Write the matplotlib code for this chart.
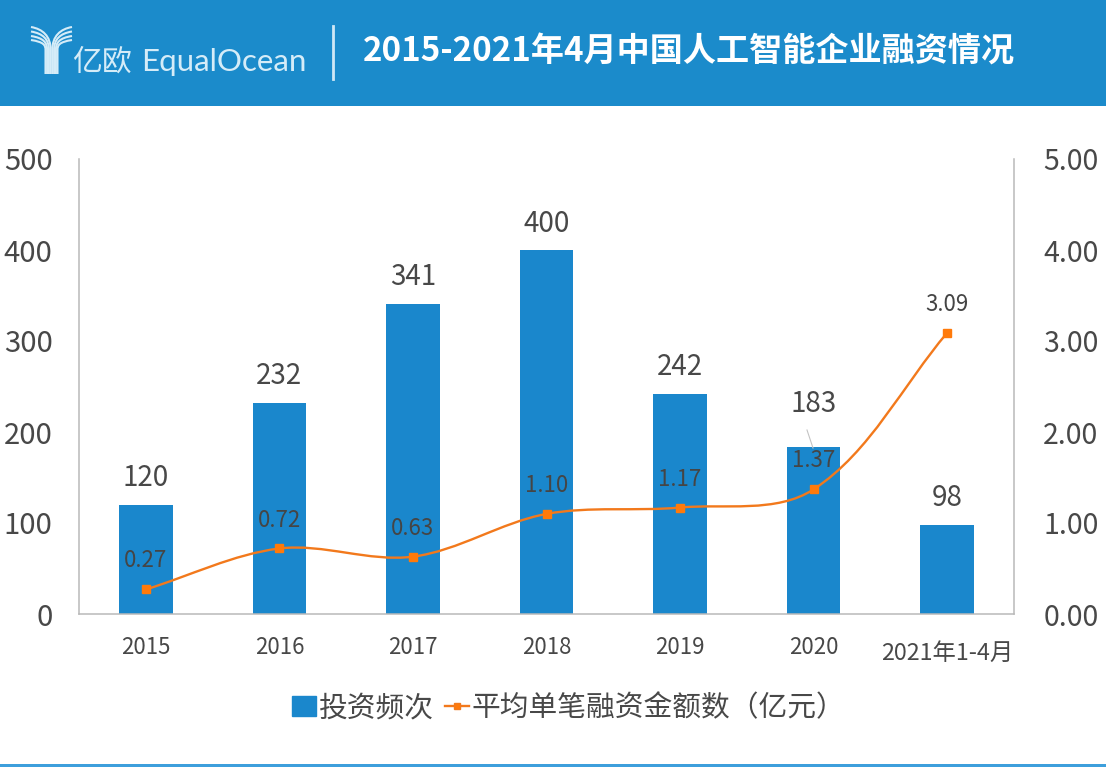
# 2015-2021 融资情况
import numpy as np
import matplotlib
matplotlib.use('Agg')
import matplotlib.pyplot as plt
from matplotlib.path import Path
from matplotlib.patches import PathPatch, Rectangle
from matplotlib.lines import Line2D

plt.rcParams['font.family'] = ['Noto Sans CJK SC', 'DejaVu Sans']

years = ['2015', '2016', '2017', '2018', '2019', '2020', '2021年1-4月']
freq = [120, 232, 341, 400, 242, 183, 98]
amount = [0.27, 0.72, 0.63, 1.10, 1.17, 1.37, 3.09]
amount_labels = ['0.27', '0.72', '0.63', '1.10', '1.17', '1.37', '3.09']
left_ticks = [0, 100, 200, 300, 400, 500]
right_ticks = [0, 1, 2, 3, 4, 5]
title = '2015-2021年4月中国人工智能企业融资情况'

BLUE = '#1a87cc'
HEAD = '#1b8bcb'
ORANGE = '#f2791c'
TXT = '#484848'
LOGO = '#d5ecf8'
W, H = 1106, 768

fig = plt.figure(figsize=(W / 100, H / 100), dpi=100, facecolor='white')

# fond en pixels : bandeau, logo, filet du bas
bg = fig.add_axes([0, 0, 1, 1], zorder=0)
bg.set_xlim(0, W)
bg.set_ylim(H, 0)
bg.axis('off')
bg.add_patch(Rectangle((0, 0), W, 106, color=HEAD, lw=0))
bg.add_patch(Rectangle((0, 763.5), W, 3, color='#3d9fdc', lw=0))
bg.plot([333, 333], [26, 79], color='#cfe8f6', lw=2)

for d in [0, 4.5, 9, 13]:
    # branches du Y
    for sgn in (-1, 1):
        stem = 51.5 + sgn * (0.8 + d * 0.4)
        verts = [(51.5 + sgn * 20.5, 27 + d), (51.5 + sgn * (9 - d * 0.1), 29 + d),
                 (stem, 36 + d * 0.7), (stem, 50), (stem, 74)]
        codes = [Path.MOVETO, Path.CURVE4, Path.CURVE4, Path.CURVE4, Path.LINETO]
        bg.add_patch(PathPatch(Path(verts, codes), fc='none', ec=LOGO, lw=1.5))
bg.text(72, 62, '亿欧', color=LOGO, fontsize=21.5, va='center', ha='left', fontweight='light')
bg.text(141, 62, 'EqualOcean', color=LOGO, fontsize=22.5, va='center', ha='left', family='Lato')
bg.text(363, 52, title, color='white', fontsize=23.85, fontweight='bold', va='center', ha='left')

# le graphe
ax = fig.add_axes([79 / W, 1 - 614 / H, 935 / W, 455 / H], zorder=1)
ax.patch.set_alpha(0)
x = np.arange(len(years))
ax.bar(x, freq, width=0.4, color=BLUE, zorder=2)
ax.set_xlim(-0.5, 6.5)
ax.set_ylim(0, 500)
ax.set_yticks(left_ticks)
ax.set_xticks(x)
ax.set_xticklabels(years, fontsize=16, color=TXT)
ax.get_xticklabels()[-1].set_y(-0.012)
ax.get_xticklabels()[-1].set_fontsize(16.8)
ax.tick_params(axis='y', length=0, pad=19, labelsize=21, labelcolor=TXT)
ax.tick_params(axis='x', length=0, pad=16)
ax.spines['top'].set_visible(False)
for s in ['left', 'right', 'bottom']:
    ax.spines[s].set_color('#b9b9b9')
    ax.spines[s].set_linewidth(1.1)

for i, v in enumerate(freq):
    # 183 est decale vers le haut, avec un trait de rappel
    off = 31 if v == 183 else 19
    ax.annotate(str(v), (x[i], v), xytext=(0, off), textcoords='offset points',
                ha='center', va='center', fontsize=20, color=TXT)

ax2 = ax.twinx()
ax2.set_ylim(0, 5)
ax2.set_yticks(right_ticks)
ax2.set_yticklabels(['%.2f' % t for t in right_ticks])
ax2.tick_params(axis='y', length=0, pad=21, labelsize=20.5, labelcolor=TXT)
for s in ax2.spines.values():
    s.set_visible(False)

# courbe lissee facon Excel : tangentes calculees a l'ecran
pts = ax2.transData.transform(np.column_stack([x, amount]))
verts = [pts[0]]
codes = [Path.MOVETO]
k = 0.33
n = len(pts)
for i in range(n - 1):
    p0 = pts[max(i - 1, 0)]
    p1 = pts[i]
    p2 = pts[i + 1]
    p3 = pts[min(i + 2, n - 1)]
    seg = np.linalg.norm(p2 - p1)
    d1 = (p2 - p0) / np.linalg.norm(p2 - p0)
    d2 = (p3 - p1) / np.linalg.norm(p3 - p1)
    verts += [p1 + d1 * seg * k, p2 - d2 * seg * k, p2]
    codes += [Path.CURVE4] * 3
verts = ax2.transData.inverted().transform(np.array(verts))
ax2.add_patch(PathPatch(Path(verts, codes), fc='none', ec=ORANGE, lw=1.7, zorder=3))
ax2.plot(x, amount, ls='none', marker='s', ms=5.8, color='#ff7a0a', zorder=4)

for i, lab in enumerate(amount_labels):
    ax2.annotate(lab, (x[i], amount[i]), xytext=(0, 20.5), textcoords='offset points',
                 ha='center', va='center', fontsize=16, color='#454545', zorder=5)

# trait de rappel 1.37
bg2 = fig.add_axes([0, 0, 1, 1], zorder=3)
bg2.set_xlim(0, W)
bg2.set_ylim(H, 0)
bg2.axis('off')
bg2.plot([807, 813], [430, 448], color='#c4c4c4', lw=0.8)

handles = [Rectangle((0, 0), 1, 1, color=BLUE),
           Line2D([], [], color=ORANGE, lw=1.7, marker='s', ms=5, mfc='#ff7a0a')]
fig.legend(handles, ['投资频次', '平均单笔融资金额数（亿元）'], loc='center',
           bbox_to_anchor=(569 / W, 1 - 708 / H), ncols=2, frameon=False, fontsize=20.7,
           labelcolor=TXT, handlelength=0.82, handleheight=0.7, handletextpad=0.1,
           columnspacing=0.4, borderpad=0)

fig.savefig('out.png', dpi=100)
